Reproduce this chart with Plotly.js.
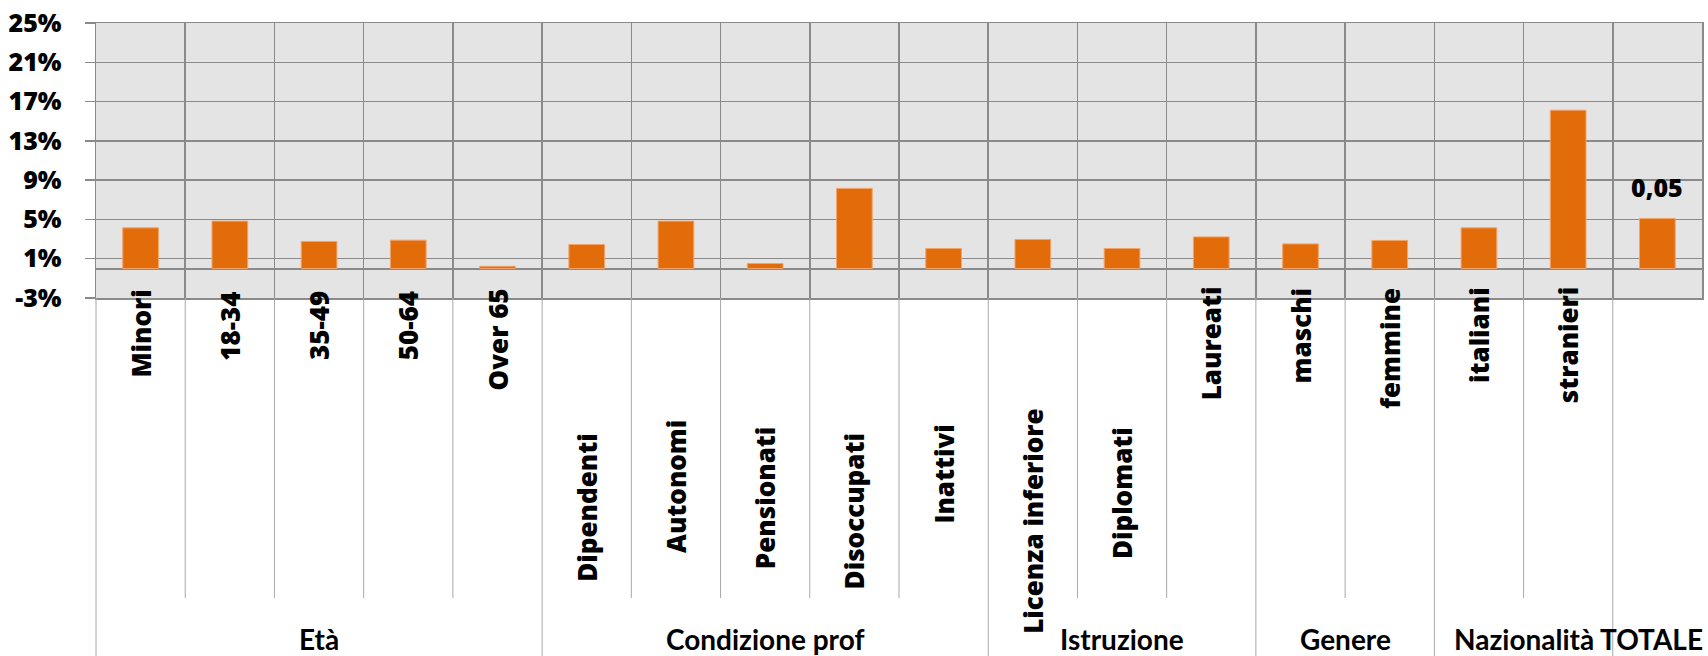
<!DOCTYPE html>
<html>
<head>
<meta charset="utf-8">
<script src="https://cdn.plot.ly/plotly-3.0.1.min.js"></script>
<style>
html,body{margin:0;padding:0;background:#ffffff;}
#chart{width:1708px;height:656px;}
</style>
</head>
<body>
<div id="chart"></div>
<script>
// ---- data ----
const categories = ['Minori','18-34','35-49','50-64','Over 65','Dipendenti','Autonomi','Pensionati','Disoccupati','Inattivi','Licenza inferiore','Diplomati','Laureati','maschi','femmine','italiani','stranieri','TOTALE'];
const categoryLabels = ['Minori','18-34','35-49','50-64','Over 65','Dipendenti','Autonomi','Pensionati','Disoccupati','Inattivi','Licenza inferiore','Diplomati','Laureati','maschi','femmine','italiani','stranieri',''];
const values = [0.0414,0.0483,0.0276,0.0289,0.0023,0.0245,0.0483,0.0051,0.0816,0.0204,0.0296,0.0204,0.0322,0.0251,0.0286,0.0414,0.1612,0.0510];
const groupNames = ['Età','Condizione prof','Istruzione','Genere','Nazionalità','TOTALE'];
const groupSizes = [5,5,3,2,2,1];
const tickValues = [-0.03,0.01,0.05,0.09,0.13,0.17,0.21,0.25];
const tickLabels = ['-3%','1%','5%','9%','13%','17%','21%','25%'];

// ---- layout helpers (pixel offsets of the rotated category labels below the plot) ----
const labelDrop = [36,28,28,28,42,210,188,200,213,176,223,195,45,38,50,37,47,0];
const groupShift = [0,0,0,0,0,-6];
const M = {l:96, r:6, t:23, b:358};
const plotH = 656 - M.t - M.b;
const innerBottom = -(598 - (656 - M.b)) / plotH;
const groupBottom = -(660 - (656 - M.b)) / plotH;
const N = categories.length;

const gridCol = '#8a8a8a';
const divCol = '#a8a8a8';

// dividers below the plot
const groupStarts = [];
let acc = 0;
groupSizes.forEach(s => { groupStarts.push(acc); acc += s; });
const shapes = [];
for (let k = 0; k < N; k++) {
  const isGroup = groupStarts.indexOf(k) >= 0;
  shapes.push({
    type:'line', xref:'paper', yref:'paper',
    x0:k/N, x1:k/N, y0:0, y1: isGroup ? groupBottom : innerBottom,
    line:{color:divCol, width:1}, layer:'above'
  });
}

const annotations = [];
categories.forEach((c,i) => {
  if (!categoryLabels[i]) return;
  annotations.push({
    xref:'x', x:c, yref:'paper', y:0, yanchor:'middle', xanchor:'center',
    yshift:-labelDrop[i], textangle:-90, showarrow:false,
    text:categoryLabels[i],
    font:{family:'Open Sans, sans-serif', size:26, weight:800, color:'#000'}
  });
});
groupNames.forEach((g,j) => {
  annotations.push({
    xref:'paper', x:(groupStarts[j] + groupSizes[j]/2)/N, yref:'paper', y:0,
    yanchor:'middle', xanchor:'center', yshift:-341, xshift:groupShift[j], showarrow:false,
    text:g,
    font:{family:'Lato, sans-serif', size:28, weight:'bold', color:'#000'}
  });
});
// value label on TOTALE
const last = N - 1;
annotations.push({
  xref:'x', x:categories[last], yref:'y', y:values[last], yanchor:'bottom', xanchor:'center',
  yshift:12, showarrow:false,
  text:values[last].toFixed(2).replace('.', ','),
  font:{family:'Open Sans, sans-serif', size:25, weight:800, color:'#000'}
});

const trace = {
  type:'bar', x:categories, y:values,
  marker:{color:'#e36c0a', line:{color:'#f2a36a', width:1}},
  hoverinfo:'none'
};

const layout = {
  width:1708, height:656,
  margin:M,
  paper_bgcolor:'#ffffff',
  plot_bgcolor:'#e4e4e4',
  bargap:0.6,
  showlegend:false,
  xaxis:{
    type:'category', tickson:'boundaries', showgrid:true, gridcolor:gridCol, gridwidth:1.5,
    showticklabels:false, ticks:'', showline:true, mirror:true, linecolor:gridCol, linewidth:1.5,
    zeroline:false, fixedrange:true
  },
  yaxis:{
    range:[-0.03,0.25], tickvals:tickValues, ticktext:tickLabels,
    showgrid:true, gridcolor:gridCol, gridwidth:1.5,
    zeroline:true, zerolinecolor:gridCol, zerolinewidth:2,
    showline:true, mirror:true, linecolor:gridCol, linewidth:1.5,
    ticks:'outside', ticklen:10, tickcolor:gridCol, tickwidth:1.5,
    ticklabelstandoff:18,
    tickfont:{family:'Open Sans, sans-serif', size:25, weight:800, color:'#000'},
    fixedrange:true
  },
  shapes:shapes,
  annotations:annotations
};

Plotly.newPlot('chart', [trace], layout, {staticPlot:true, displayModeBar:false});
</script>
</body>
</html>
